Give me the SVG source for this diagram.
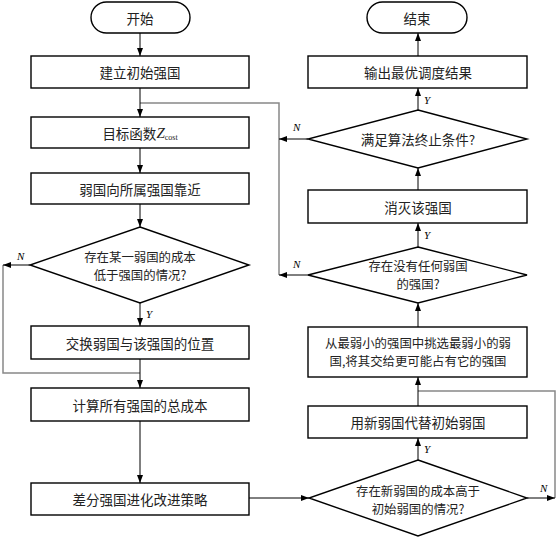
<svg xmlns="http://www.w3.org/2000/svg" width="557" height="538" viewBox="0 0 557 538">
<defs>
<marker id="ah" markerWidth="8" markerHeight="6" refX="8" refY="3" orient="auto" markerUnits="userSpaceOnUse">
<path d="M0,0 L8,3 L0,6 Z" fill="#000"/>
</marker>
<style>
.box{fill:#fff;stroke:#000;stroke-width:1.4}
.t{font-family:"Noto Sans CJK SC","Noto Sans CJK JP",sans-serif;font-size:13.5px;fill:#222;text-anchor:middle;dominant-baseline:central}
.t2{font-size:12.4px}
.lbl{font-family:"Liberation Serif",serif;font-style:italic;font-size:11px;fill:#000}
.c{fill:none;stroke:#000;stroke-width:1;marker-end:url(#ah)}
.g{fill:none;stroke:#888;stroke-width:1.5}
</style>
</defs>
<rect width="557" height="538" fill="#fff"/>
<g id="connectors">
<polyline class="g" points="3,265 3,373 140,373"/>
<polyline class="g" points="279,275 279,103 140,103"/>
<polyline class="g" points="555,498 555,391 418,391"/>
<line class="c" x1="140" y1="33" x2="140" y2="56"/>
<line class="c" x1="140" y1="88" x2="140" y2="117"/>
<line class="c" x1="140" y1="148" x2="140" y2="173"/>
<line class="c" x1="140" y1="204" x2="140" y2="227"/>
<line class="c" x1="140" y1="303" x2="140" y2="326"/>
<line class="c" x1="140" y1="359" x2="140" y2="388"/>
<line class="c" x1="140" y1="421" x2="140" y2="483"/>
<line class="c" x1="30" y1="265" x2="3" y2="265"/>
<line class="c" x1="249" y1="498" x2="309" y2="498"/>
<line class="c" x1="527" y1="498" x2="555" y2="498"/>
<line class="c" x1="418" y1="460" x2="418" y2="438"/>
<line class="c" x1="418" y1="406" x2="418" y2="377"/>
<line class="c" x1="418" y1="327" x2="418" y2="303"/>
<line class="c" x1="418" y1="247" x2="418" y2="223"/>
<line class="c" x1="418" y1="190" x2="418" y2="168"/>
<line class="c" x1="418" y1="110" x2="418" y2="88"/>
<line class="c" x1="418" y1="56" x2="418" y2="33"/>
<line class="c" x1="308" y1="139" x2="279" y2="139"/>
<line class="c" x1="308" y1="275" x2="279" y2="275"/>
<text class="lbl" x="17" y="260">N</text>
<text class="lbl" x="146" y="318">Y</text>
<text class="lbl" x="293" y="131">N</text>
<text class="lbl" x="293" y="268">N</text>
<text class="lbl" x="424" y="104">Y</text>
<text class="lbl" x="424" y="239">Y</text>
<text class="lbl" x="424" y="453">Y</text>
<text class="lbl" x="540" y="492">N</text>
</g>
<g id="start"><rect class="box" x="91" y="2" width="99" height="31" rx="15.5"/><text class="t" x="140" y="17.5">开始</text></g>
<g id="init"><rect class="box" x="31" y="56" width="218" height="32"/><text class="t" x="140" y="72">建立初始强国</text></g>
<g id="obj"><rect class="box" x="31" y="117" width="218" height="31"/><text class="t" x="140" y="132.5">目标函数<tspan font-family="Liberation Serif,serif" font-style="italic" font-size="15">Z</tspan><tspan font-family="Liberation Serif,serif" font-size="8" dy="4">cost</tspan></text></g>
<g id="approach"><rect class="box" x="31" y="173" width="218" height="31"/><text class="t" x="140" y="188.5">弱国向所属强国靠近</text></g>
<g id="dec1"><polygon class="box" points="140,227 249,265 140,303 30,265"/><text class="t t2" x="140" y="257">存在某一弱国的成本</text><text class="t t2" x="140" y="275">低于强国的情况?</text></g>
<g id="swap"><rect class="box" x="31" y="326" width="218" height="33"/><text class="t" x="140" y="342.5">交换弱国与该强国的位置</text></g>
<g id="total"><rect class="box" x="31" y="388" width="218" height="33"/><text class="t" x="140" y="404.5">计算所有强国的总成本</text></g>
<g id="diff"><rect class="box" x="31" y="483" width="218" height="32"/><text class="t" x="140" y="499">差分强国进化改进策略</text></g>
<g id="end"><rect class="box" x="367" y="2" width="100" height="31" rx="15.5"/><text class="t" x="417" y="17.5">结束</text></g>
<g id="output"><rect class="box" x="308" y="56" width="219" height="32"/><text class="t" x="418" y="72">输出最优调度结果</text></g>
<g id="dec2"><polygon class="box" points="418,110 527,139 418,168 308,139"/><text class="t" x="418" y="139">满足算法终止条件?</text></g>
<g id="elim"><rect class="box" x="308" y="190" width="219" height="33"/><text class="t" x="418" y="206.5">消灭该强国</text></g>
<g id="dec3"><polygon class="box" points="418,247 527,275 418,303 308,275"/><text class="t t2" x="418" y="266">存在没有任何弱国</text><text class="t t2" x="418" y="284">的强国?</text></g>
<g id="pick"><rect class="box" x="308" y="327" width="219" height="50"/><text class="t t2" x="418" y="343">从最弱小的强国中挑选最弱小的弱</text><text class="t t2" x="418" y="361">国,将其交给更可能占有它的强国</text></g>
<g id="replace"><rect class="box" x="308" y="406" width="219" height="32"/><text class="t" x="418" y="422">用新弱国代替初始弱国</text></g>
<g id="dec4"><polygon class="box" points="418,460 527,498 418,536 309,498"/><text class="t t2" x="418" y="491">存在新弱国的成本高于</text><text class="t t2" x="418" y="509">初始弱国的情况?</text></g>
</svg>
